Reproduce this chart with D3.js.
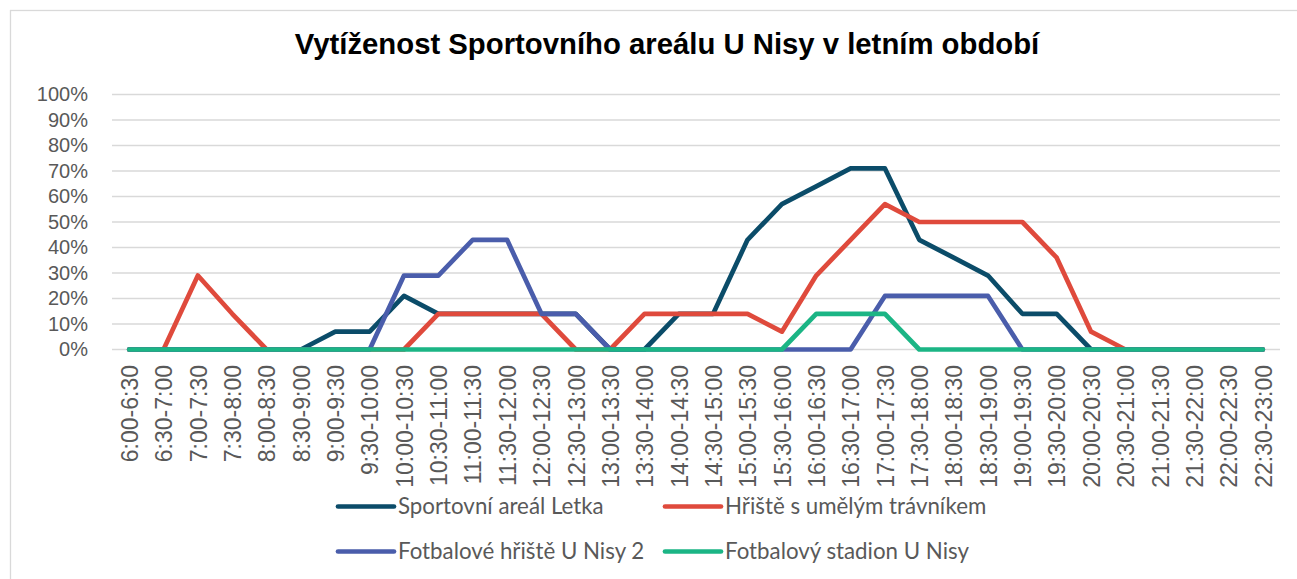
<!DOCTYPE html>
<html>
<head>
<meta charset="utf-8">
<script src="https://cdnjs.cloudflare.com/ajax/libs/d3/7.8.5/d3.min.js"></script>
<style>
  body { margin: 0; background: #fff; }
  svg { display: block; }
</style>
</head>
<body>
<div id="chart"></div>
<script>
// categories (half-hour slots)
var slots = ["6:00-6:30","6:30-7:00","7:00-7:30","7:30-8:00","8:00-8:30","8:30-9:00",
  "9:00-9:30","9:30-10:00","10:00-10:30","10:30-11:00","11:00-11:30","11:30-12:00",
  "12:00-12:30","12:30-13:00","13:00-13:30","13:30-14:00","14:00-14:30","14:30-15:00",
  "15:00-15:30","15:30-16:00","16:00-16:30","16:30-17:00","17:00-17:30","17:30-18:00",
  "18:00-18:30","18:30-19:00","19:00-19:30","19:30-20:00","20:00-20:30","20:30-21:00",
  "21:00-21:30","21:30-22:00","22:00-22:30","22:30-23:00"];

// occupancy in percent
var letka  = [0,0,0,0,0,0,7,7,21,14,14,14,14,14,0,0,14,14,43,57,64,71,71,43,36,29,14,14,0,0,0,0,0,0];
var travnik = [0,0,29,14,0,0,0,0,0,14,14,14,14,0,0,14,14,14,14,7,29,43,57,50,50,50,50,36,7,0,0,0,0,0];
var nisy2  = [0,0,0,0,0,0,0,0,29,29,43,43,14,14,0,0,0,0,0,0,0,0,21,21,21,21,0,0,0,0,0,0,0,0];
var stadion = [0,0,0,0,0,0,0,0,0,0,0,0,0,0,0,0,0,0,0,0,14,14,14,0,0,0,0,0,0,0,0,0,0,0];

var yTicks = [0,10,20,30,40,50,60,70,80,90,100];

var seriesNames = ["Sportovní areál Letka","Hřiště s umělým trávníkem","Fotbalové hřiště U Nisy 2","Fotbalový stadion U Nisy"];
var seriesColors = ["#0B4C69","#DF4A3C","#4A5DAB","#1BB585"];
var seriesData = [letka, travnik, nisy2, stadion];

var width = 1297, height = 579;
var svg = d3.select("#chart").append("svg")
  .attr("width", width)
  .attr("height", height);

// chart frame (right and bottom edges are outside the picture)
svg.append("rect")
  .attr("x", 10.5).attr("y", 10.5)
  .attr("width", 1320).attr("height", 620)
  .attr("fill", "#fff")
  .attr("stroke", "#D9D9D9")
  .attr("stroke-width", 1.3);

svg.append("text")
  .attr("x", 667).attr("y", 54)
  .attr("text-anchor", "middle")
  .attr("font-family", "Liberation Sans, Arial, sans-serif")
  .attr("font-weight", "bold")
  .attr("font-size", 29.3)
  .attr("fill", "#000")
  .text("Vytíženost Sportovního areálu U Nisy v letním období");

var x = d3.scalePoint().domain(slots).range([112, 1280]).padding(0.5);
var y = d3.scaleLinear().domain([0, 100]).range([349.5, 94.5]);

// gridlines
svg.append("g")
  .selectAll("line")
  .data(yTicks)
  .enter()
  .append("line")
    .attr("x1", 112).attr("x2", 1280)
    .attr("y1", function(d) { return y(d); })
    .attr("y2", function(d) { return y(d); })
    .attr("stroke", "#D9D9D9")
    .attr("stroke-width", 1.5);

// y axis labels
var yAxis = d3.axisLeft(y).tickValues(yTicks).tickSize(0).tickPadding(0)
  .tickFormat(function(d) { return d + "%"; });
var gy = svg.append("g").attr("transform", "translate(88,0)").call(yAxis);
gy.select(".domain").remove();
gy.selectAll("text")
  .attr("font-family", "Liberation Sans, Arial, sans-serif")
  .attr("font-size", 20)
  .attr("fill", "#595959");

// x axis labels (rotated)
var xAxis = d3.axisBottom(x).tickSize(0).tickPadding(0);
var gx = svg.append("g").attr("transform", "translate(0,365)").call(xAxis);
gx.select(".domain").remove();
gx.selectAll("text")
  .attr("font-family", "Liberation Sans, Arial, sans-serif")
  .attr("font-size", 23)
  .attr("fill", "#595959")
  .attr("text-anchor", "end")
  .attr("transform", "rotate(-90)")
  .attr("x", 0).attr("y", 0)
  .attr("dy", "0.36em");

// lines
var line = d3.line()
  .x(function(d, i) { return x(slots[i]); })
  .y(function(d) { return y(d); });

svg.append("g")
  .selectAll("path")
  .data(seriesData)
  .enter()
  .append("path")
    .attr("d", function(d) { return line(d); })
    .attr("fill", "none")
    .attr("stroke", function(d, i) { return seriesColors[i]; })
    .attr("stroke-width", 4.7)
    .attr("stroke-linejoin", "round")
    .attr("stroke-linecap", "round");

// legend
var legendPos = [[338, 506.5], [665, 506.5], [338, 551.5], [665, 551.5]];
var legend = svg.append("g")
  .selectAll("g")
  .data(seriesNames)
  .enter()
  .append("g")
    .attr("transform", function(d, i) { return "translate(" + legendPos[i][0] + "," + legendPos[i][1] + ")"; });

legend.append("line")
  .attr("x1", 0).attr("x2", 56)
  .attr("stroke", function(d, i) { return seriesColors[i]; })
  .attr("stroke-width", 4.7)
  .attr("stroke-linecap", "round");

legend.append("text")
  .attr("x", 60)
  .attr("dy", "0.35em")
  .attr("font-family", "Lato, sans-serif")
  .attr("font-size", 22.3)
  .attr("fill", "#595959")
  .text(function(d) { return d; });
</script>
</body>
</html>
